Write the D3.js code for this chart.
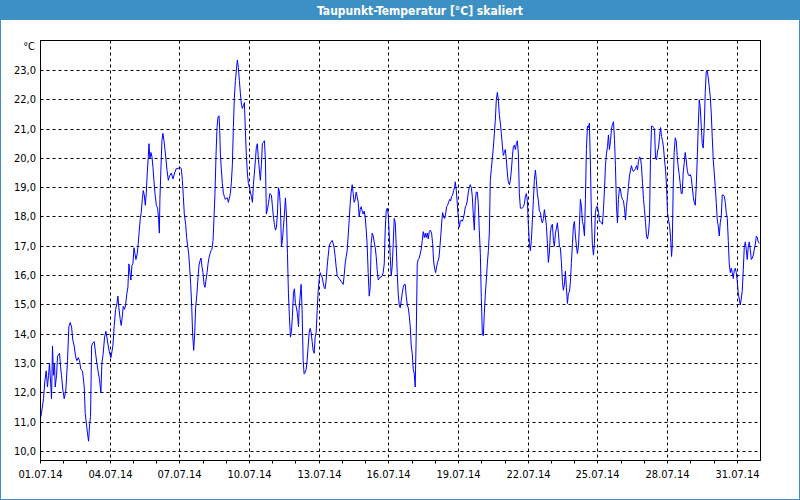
<!DOCTYPE html>
<html><head><meta charset="utf-8">
<script src="https://cdn.jsdelivr.net/npm/d3@7"></script>
<style>html,body{margin:0;padding:0;background:#fdfefd;} svg{display:block;}</style>
</head><body><svg id="c" width="800" height="500"></svg>
<script>
const chartTitle = "Taupunkt-Temperatur [°C] skaliert";
const unitLabel = "°C";
const periodStart = "2014-07-01T00:00:00Z";
const periodEnd = "2014-08-01T00:00:00Z";
const yTickValues = [10,11,12,13,14,15,16,17,18,19,20,21,22,23];
const yDomain = [9.693, 24.02];
const labelEveryDays = 3;
// hours since 01.07.14 00:00
const hours = [0,1.0,3.1,4.5,5.9,7.2,8.3,9.3,10.7,11.4,12.4,13.4,14.5,15.2,16.6,17.6,19.7,20.7,21.7,23.1,24.5,26.2,27.9,29.3,30.7,32.1,33.4,34.8,36.2,37.6,39.0,40.3,41.7,43.4,45.2,46.2,47.6,48.6,49.7,50.7,51.7,52.8,54.1,55.5,56.9,58.3,59.7,61.0,62.4,63.4,64.8,66.2,67.6,68.6,70.0,71.4,
72.8,74.8,76.2,77.6,79.0,80.0,81.0,82.4,83.4,84.5,85.5,86.9,87.9,89.3,90.3,91.4,92.4,93.4,94.5,95.5,96.6,97.6,98.6,100.0,101.0,102.1,103.1,104.1,105.2,106.2,107.2,108.3,109.3,110.3,111.4,112.1,113.1,114.1,115.2,116.2,117.2,118.3,119.7,121.0,122.1,122.8,123.4,124.5,125.5,126.5,127.6,128.6,129.7,130.7,132.1,
133.4,135.2,136.9,138.6,140.3,142.1,143.8,145.5,146.6,147.6,148.6,150.0,151.0,152.1,153.1,154.1,155.2,156.2,157.2,158.3,159.3,160.3,161.7,162.8,163.8,164.8,165.9,166.9,167.9,169.0,170.0,171.0,172.1,173.1,174.1,175.2,176.2,177.2,178.3,179.3,180.3,181.4,182.4,183.4,184.5,185.2,185.9,186.9,187.9,189.0,190.0,191.0,192.1,193.1,194.1,195.2,196.2,197.2,198.3,199.3,200.3,201.4,202.4,203.4,204.5,205.5,206.6,207.6,208.6,209.7,210.7,211.7,212.8,213.8,214.8,215.9,216.9,217.9,219.0,220.0,221.0,222.1,223.1,224.1,225.2,226.2,227.2,228.3,229.3,230.3,231.4,232.4,233.4,234.5,235.5,
237.0,238.6,239.7,240.7,241.7,242.8,243.8,244.8,245.9,246.9,247.9,249.0,250.0,251.0,252.1,253.1,254.1,255.2,256.2,257.2,258.3,259.3,260.3,261.4,262.4,263.4,264.5,265.5,266.6,267.2,268.3,269.3,270.3,271.4,272.4,273.4,274.5,275.5,276.6,277.6,278.6,279.7,280.7,281.7,282.8,283.8,284.8,285.9,286.9,287.9,289.0,290.0,291.0,292.1,293.1,294.1,295.2,296.2,297.2,298.3,299.3,300.3,301.4,302.4,303.4,304.5,305.5,306.6,307.6,308.6,309.7,310.7,311.7,312.8,313.8,314.8,315.9,316.9,317.9,319.0,320.0,321.0,322.1,323.1,324.1,325.2,326.2,327.2,328.3,329.3,330.3,331.4,332.4,333.4,334.5,335.5,336.6,337.6,338.6,339.7,340.7,341.7,342.8,343.8,344.8,345.9,346.9,347.9,349.0,350.0,351.0,352.1,353.1,354.1,355.2,356.2,357.2,358.3,359.3,360.3,361.4,362.4,363.4,364.5,365.5,366.6,367.6,368.6,369.7,370.7,371.7,372.8,373.8,374.8,375.9,376.9,377.9,379.0,380.0,381.0,382.1,383.1,384.1,385.2,386.2,387.2,388.3,389.3,390.3,391.4,
393.4,394.5,395.5,396.6,397.6,398.6,399.7,400.7,401.7,402.8,404.1,405.2,406.2,407.2,408.3,409.3,410.3,411.7,412.8,413.8,414.8,415.5,416.6,417.6,418.6,419.7,420.7,421.7,422.8,423.8,424.8,425.9,426.9,427.9,428.6,429.7,430.7,431.7,432.8,433.8,434.8,435.9,436.9,437.9,439.0,440.0,441.0,442.1,443.1,444.1,445.2,446.2,447.2,448.3,449.3,450.3,451.4,452.4,453.4,454.5,455.5,456.6,457.6,458.6,459.7,460.7,461.7,462.8,463.8,464.8,465.9,466.9,467.9,469.0,470.0,471.0,472.1,473.1,474.1,475.2,476.2,477.2,478.3,479.3,480.3,481.4,482.4,483.4,484.5,485.5,486.6,487.6,488.6,489.7,490.7,491.7,492.8,493.8,494.8,495.9,496.9,497.9,499.0,500.0,501.0,502.1,503.1,504.1,505.2,506.2,507.2,508.3,509.3,510.3,511.4,512.4,513.4,514.5,515.5,
516.6,517.6,518.6,519.7,520.7,521.7,522.8,523.8,524.8,525.9,526.9,527.9,529.0,530.0,531.0,532.1,533.1,534.1,535.2,536.2,537.2,538.3,539.3,540.3,541.4,542.4,543.4,544.5,545.5,546.6,547.6,548.6,549.7,550.7,551.7,552.8,553.8,554.8,555.9,556.9,557.9,559.0,560.0,561.0,562.1,563.1,564.1,565.2,566.2,567.2,568.3,569.3,570.3,571.4,572.4,573.4,574.5,575.5,576.6,577.6,578.6,579.7,580.7,581.7,582.8,583.8,584.8,585.9,586.9,587.9,589.0,590.0,591.0,592.1,593.1,594.1,595.2,596.2,597.2,598.3,599.3,600.3,601.4,602.4,603.4,604.5,605.5,606.6,607.6,608.6,609.7,610.7,611.7,612.8,613.8,614.8,615.9,616.9,617.9,619.0,620.0,621.0,622.1,623.1,624.1,625.2,626.2,627.2,
628.3,629.3,630.3,631.4,632.4,633.4,634.5,635.5,636.6,637.6,638.6,639.7,640.7,641.7,642.8,643.8,644.8,645.9,646.9,647.9,649.0,650.0,651.0,652.1,652.8,653.8,654.8,655.9,656.9,657.9,659.0,660.0,661.0,662.1,663.1,664.1,665.2,666.2,667.2,668.3,669.3,670.3,671.4,672.4,673.4,674.5,675.5,676.6,677.6,678.6,679.7,680.7,681.7,682.8,683.8,684.8,685.9,686.9,687.9,689.0,690.0,691.0,692.1,693.1,694.1,695.2,696.2,697.2,698.3,699.3,700.3,701.4,702.4,703.4,704.5,705.5,706.6,707.6,708.6,709.7,710.7,711.7,712.8,713.8,714.8,715.9,716.9,717.9,719.0,720.0,721.0,722.1,723.1,724.1,725.2,726.2,727.2,728.3,729.3,730.3,731.4,732.4,733.4,734.5,735.5,736.6,737.6,738.6,739.7,740.7,741.7,742.8];
// dew point in °C
const dewpoint = [11.15,11.3,11.8,12.4,12.75,12.2,12.6,13.0,12.2,11.8,13.6,12.6,13.0,12.2,12.6,13.25,13.35,12.9,12.6,12.1,11.8,12.1,13.1,14.25,14.4,14.25,13.8,13.6,13.25,13.1,13.2,13.1,12.8,12.75,12.2,11.3,10.9,10.6,10.35,10.9,11.2,13.6,13.7,13.75,13.35,13.0,12.7,12.45,12.0,13.0,13.35,13.9,14.1,13.9,13.6,13.35,
13.2,13.6,14.3,14.85,15.05,15.3,14.9,14.5,14.3,14.6,14.95,14.85,15.0,15.4,15.6,16.4,16.1,15.85,16.35,16.4,16.95,16.75,16.55,16.75,17.1,17.55,17.95,18.15,18.6,18.9,18.75,18.4,18.8,19.5,20.05,20.5,20.0,20.2,20.05,19.7,19.25,18.8,18.4,18.3,17.9,17.45,18.6,19.7,20.6,20.85,20.6,20.3,19.95,19.6,19.25,
19.4,19.5,19.3,19.5,19.65,19.65,19.7,19.65,19.25,18.7,18.1,17.75,17.3,17.0,16.75,16.3,15.7,15.0,14.0,13.45,14.0,14.9,15.4,15.95,16.35,16.5,16.6,16.3,16.1,15.7,15.6,15.85,16.1,16.4,16.6,16.75,16.85,16.9,17.2,18.0,18.8,20.15,21.05,21.4,21.45,20.95,20.15,19.6,19.15,18.8,18.7,18.6,18.65,18.65,18.5,18.65,18.8,19.15,19.8,21.05,22.05,22.65,23.0,23.35,23.1,22.65,22.2,21.85,21.7,21.8,21.9,20.95,20.05,19.5,19.15,19.0,18.85,18.7,18.5,19.1,19.5,19.95,20.4,20.5,19.95,19.6,19.25,19.8,20.5,20.55,20.6,19.95,18.1,18.25,18.45,
18.8,18.75,18.35,18.0,17.75,17.55,17.65,18.1,19.0,18.85,18.35,17.0,17.2,17.65,18.1,18.65,18.1,16.75,15.4,14.6,13.9,14.1,14.6,15.4,15.55,15.05,14.9,14.7,14.25,14.85,15.3,15.7,14.85,13.1,12.65,12.7,12.8,13.1,13.6,14.05,14.2,14.05,13.75,13.45,13.35,13.9,14.05,14.8,15.45,15.85,16.1,16.0,15.95,15.75,15.6,15.55,15.85,16.3,16.65,17.0,17.1,17.15,17.2,17.1,16.95,16.65,16.3,16.0,15.95,15.9,15.85,15.8,15.75,15.7,16.0,16.4,16.65,16.85,17.35,17.9,18.45,18.85,19.1,18.8,18.5,18.6,18.85,18.7,18.5,18.0,18.25,18.35,18.2,18.1,18.2,18.0,17.55,17.0,16.1,15.3,15.6,17.1,17.45,17.35,17.15,16.95,16.65,16.2,15.85,15.9,15.95,15.95,16.0,16.1,16.4,17.55,18.2,18.3,18.1,17.45,16.65,16.0,16.3,17.1,17.95,17.8,17.0,16.1,15.35,15.0,14.9,15.15,15.4,15.6,15.7,15.7,15.3,15.0,14.9,14.65,14.25,13.6,13.35,12.8,12.65,12.2,14.05,16.4,16.55,16.6,
16.9,17.2,17.5,17.3,17.45,17.3,17.45,17.25,17.5,17.55,17.45,17.1,16.5,16.25,16.1,16.3,16.45,16.6,17.0,17.45,17.9,18.15,18.0,17.95,18.1,18.35,18.4,18.5,18.6,18.55,18.7,18.75,18.9,19.0,19.2,18.9,18.45,18.0,17.65,17.85,17.9,17.85,17.95,18.1,18.35,18.4,18.55,18.85,19.0,19.1,19.0,18.7,18.1,17.55,18.55,18.85,18.85,18.45,17.55,16.75,15.25,14.0,13.95,14.7,15.4,15.85,16.4,16.85,17.45,19.25,19.65,20.0,20.35,20.85,21.3,22.0,22.25,22.0,21.5,21.2,20.85,20.45,20.1,20.2,20.3,19.95,19.5,19.2,19.1,19.25,19.6,20.05,20.4,20.45,20.3,20.5,20.6,20.15,18.8,18.3,18.3,18.3,18.35,18.45,18.7,18.8,18.55,17.75,17.1,16.85,17.2,17.9,18.55,19.25,19.6,19.25,18.8,18.55,18.2,
18.15,17.9,17.8,17.95,18.25,18.0,17.7,17.1,16.45,16.8,17.45,17.7,17.75,17.2,17.0,17.45,17.6,17.8,17.45,17.0,16.95,16.45,15.8,15.5,15.7,16.15,15.6,15.05,15.4,15.45,15.8,16.45,17.1,17.7,17.85,17.35,17.0,16.75,17.0,17.7,18.6,18.35,17.85,17.7,17.35,18.6,20.3,21.1,21.05,21.2,19.75,18.0,17.05,16.7,17.1,18.15,18.35,18.35,18.15,17.85,17.85,17.8,17.75,18.25,18.95,19.75,20.15,20.4,20.8,20.3,20.6,21.0,21.15,21.25,20.65,19.75,18.35,17.8,18.6,19.0,18.95,18.7,18.6,18.55,18.3,17.9,18.35,18.7,19.05,19.4,19.6,19.75,19.6,19.55,19.6,19.65,19.75,19.6,19.9,20.05,20.0,19.75,19.15,18.6,18.25,17.8,17.35,17.25,
17.45,17.9,19.95,21.1,21.1,21.05,21.0,20.0,19.95,20.25,20.35,20.75,21.05,20.75,20.6,20.35,19.95,19.6,19.05,18.15,17.9,17.7,17.35,16.65,17.0,19.05,20.2,20.7,20.6,20.1,19.7,19.45,19.15,18.8,18.8,19.5,19.85,20.2,19.95,19.6,19.45,19.4,19.45,19.35,19.05,18.7,18.5,18.4,19.05,19.95,21.1,22.0,21.75,21.1,20.5,20.35,21.1,22.25,22.95,23.0,22.75,22.45,22.1,21.55,20.75,19.95,19.5,19.05,18.5,17.9,17.7,17.35,17.8,18.0,18.75,18.75,18.7,18.5,18.15,17.95,17.2,16.4,16.1,16.25,16.1,15.9,16.2,16.25,16.1,15.8,15.4,15.2,15.0,15.2,15.5,16.2,16.95,17.15,16.9,16.55,17.0,17.15,16.9,16.55,16.6,16.7,16.9,17.05,17.35,17.3,17.15,17.1];

const W = 800, H = 500;
const plot = {left: 40.5, right: 760.5, top: 40.5, bottom: 460.5};
const blue = "#3d90c4";
const font = "'DejaVu Sans Condensed','DejaVu Sans',sans-serif";

const svg = d3.select("#c");
svg.append("rect").attr("width", W).attr("height", H).attr("fill", "#fdfefd");
svg.append("rect").attr("x", 0).attr("y", 0).attr("width", W).attr("height", 20).attr("fill", blue);
svg.append("rect").attr("x", 0.5).attr("y", 0.5).attr("width", W - 1).attr("height", H - 1)
  .attr("fill", "none").attr("stroke", blue);
svg.append("text").attr("x", 420).attr("y", 14.5).attr("text-anchor", "middle")
  .attr("fill", "#fff").attr("font-family", font).attr("font-weight", "bold").attr("font-size", 12)
  .text(chartTitle);

const t0 = new Date(periodStart), t1 = new Date(periodEnd);
const x = d3.scaleUtc().domain([t0, t1]).range([plot.left, plot.right]);
const y = d3.scaleLinear().domain(yDomain).range([plot.bottom, plot.top]);

const data = hours.map((h, i) => ({t: new Date(t0.getTime() + h * 3600e3), v: dewpoint[i]}));

const de = d3.formatLocale({decimal: ",", thousands: ".", grouping: [3], currency: ["", " €"]});
const fmtY = de.format(".1f");
const fmtX = d3.utcFormat("%d.%m.%y");

// gridlines
const days = d3.utcDay.range(t0, t1);
const gridDays = days.filter((d, i) => i > 0 && i % labelEveryDays === 0);
const grid = svg.append("g").attr("stroke", "#000").attr("stroke-width", 1).attr("stroke-dasharray", "3,3");
grid.selectAll("line.h").data(yTickValues).join("line").attr("class", "h")
  .attr("x1", plot.left).attr("x2", plot.right)
  .attr("y1", d => Math.floor(y(d)) + 0.5).attr("y2", d => Math.floor(y(d)) + 0.5);
grid.selectAll("line.v").data(gridDays).join("line").attr("class", "v")
  .attr("y1", plot.top).attr("y2", plot.bottom)
  .attr("x1", d => Math.floor(x(d)) + 0.5).attr("x2", d => Math.floor(x(d)) + 0.5);

// data line
const clipId = "clip";
svg.append("clipPath").attr("id", clipId).append("rect")
  .attr("x", plot.left).attr("y", plot.top).attr("width", plot.right - plot.left).attr("height", plot.bottom - plot.top);
svg.append("path").datum(data).attr("clip-path", `url(#${clipId})`)
  .attr("fill", "none").attr("stroke", "#0000ff").attr("stroke-width", 1)
  .attr("d", d3.line().x(d => x(d.t)).y(d => y(d.v)));

// frame
svg.append("rect").attr("x", plot.left).attr("y", plot.top)
  .attr("width", plot.right - plot.left).attr("height", plot.bottom - plot.top)
  .attr("fill", "none").attr("stroke", "#000");

// x axis
const xAxis = d3.axisBottom(x).tickValues(days).tickSize(3).tickPadding(7).offset(0)
  .tickFormat((d, i) => i % labelEveryDays === 0 ? fmtX(d) : "");
const gx = svg.append("g").attr("transform", `translate(0,${plot.bottom})`).call(xAxis);
gx.select(".domain").remove();
gx.selectAll(".tick line").attr("stroke", "#000").attr("transform", function() {
  const p = this.parentNode.getAttribute("transform");
  return null;
});
gx.selectAll(".tick").attr("transform", d => `translate(${Math.floor(x(d)) + 0.5},0)`);
gx.selectAll("text").attr("font-family", font).attr("font-size", 11).attr("fill", "#000");

// y axis
const yAxis = d3.axisLeft(y).tickValues(yTickValues).tickSize(0).tickPadding(4.5).offset(0).tickFormat(fmtY);
const gy = svg.append("g").attr("transform", `translate(${plot.left},0)`).call(yAxis);
gy.select(".domain").remove();
gy.selectAll(".tick").attr("transform", d => `translate(0,${Math.floor(y(d)) + 0.5})`);
gy.selectAll("text").attr("font-family", font).attr("font-size", 11).attr("fill", "#000");

svg.append("text").attr("x", 35).attr("y", 50).attr("text-anchor", "end")
  .attr("font-family", font).attr("font-size", 11).attr("fill", "#000").text(unitLabel);
</script></body></html>
